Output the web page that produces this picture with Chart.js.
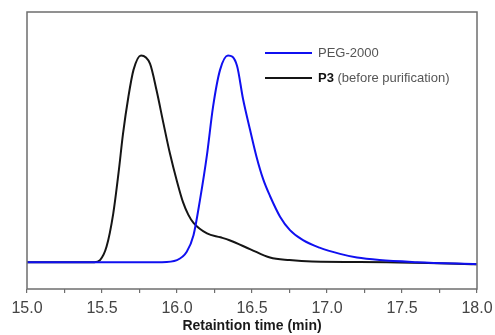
<!DOCTYPE html>
<html lang="en">
<head>
  <meta charset="UTF-8">
  <title>GPC traces</title>
  <style>
    body{ margin: 0; background: #fff; }
    .canvas-con{ width: 495px; height: 335px; }
  </style>
</head>
<body>
  <div class="canvas-con">
    <canvas id="myChart" width="495" height="335"></canvas>
  </div>

  <script src="https://cdn.jsdelivr.net/npm/chart.js"></script>
  <script>
  // PEG-2000 trace (retention time in min, normalised signal)
  const pegTime = [15.0, 15.9, 16.0, 16.065, 16.11, 16.153, 16.2, 16.24, 16.287, 16.34, 16.4, 16.44, 16.487, 16.53, 16.575, 16.62, 16.687, 16.753, 16.84, 16.95, 17.087, 17.2, 17.35, 17.6, 18.0]
  const pegSignal = [0, 0, 0.01, 0.05, 0.13, 0.30, 0.52, 0.75, 0.93, 1.0, 0.95, 0.79, 0.64, 0.51, 0.40, 0.32, 0.22, 0.155, 0.106, 0.07, 0.04, 0.022, 0.01, 0.0, -0.01]
  // P3 (before purification)
  const p3Time = [15.0, 15.45, 15.487, 15.53, 15.575, 15.61, 15.64, 15.676, 15.71, 15.76, 15.82, 15.864, 15.91, 15.953, 16.0, 16.04, 16.075, 16.11, 16.2, 16.29, 16.35, 16.49, 16.62, 16.75, 16.9, 17.4, 18.0]
  const p3Signal = [0, 0, 0.01, 0.074, 0.235, 0.43, 0.62, 0.80, 0.93, 1.0, 0.96, 0.83, 0.67, 0.525, 0.39, 0.29, 0.23, 0.19, 0.139, 0.12, 0.106, 0.062, 0.022, 0.01, 0.003, 0, -0.01]
  const seriesNames = ['PEG-2000', 'P3']
  const xTicks = [15.0, 15.5, 16.0, 16.5, 17.0, 17.5, 18.0]

  const toPoints = (xs, ys) => xs.map((x, i) => ({x: x, y: ys[i]}))

  const framePlugin = {
    id: 'frame_and_legend',
    afterDatasetsDraw: (chart) => {
      const ctx = chart.ctx
      const a = chart.chartArea
      ctx.save()
      ctx.strokeStyle = '#6e6e6e'
      ctx.lineWidth = 1.5
      ctx.strokeRect(a.left, a.top, a.right - a.left, a.bottom - a.top)

      // legend: line sample + text, P3 in bold
      const rows = [
        {color: chart.data.datasets[0].borderColor, y: 53, parts: [[seriesNames[0], 'normal', '#555']]},
        {color: chart.data.datasets[1].borderColor, y: 78, parts: [[seriesNames[1], 'bold', '#111'], [' (before purification)', 'normal', '#555']]}
      ]
      rows.forEach(r => {
        ctx.strokeStyle = r.color
        ctx.lineWidth = 2
        ctx.beginPath()
        ctx.moveTo(265, r.y)
        ctx.lineTo(312, r.y)
        ctx.stroke()
        let x = 318
        ctx.textBaseline = 'middle'
        r.parts.forEach(p => {
          ctx.font = p[1] + ' 13px Arial, "Liberation Sans", sans-serif'
          ctx.fillStyle = p[2]
          ctx.fillText(p[0], x, r.y)
          x += ctx.measureText(p[0]).width
        })
      })
      ctx.restore()
    }
  }

  let myChart = new Chart(document.getElementById('myChart'), {
    type: 'line',
    data: {
      datasets: [
        {
          label: seriesNames[0],
          data: toPoints(pegTime, pegSignal),
          borderColor: '#1010f0',
          borderWidth: 2,
          pointRadius: 0,
          cubicInterpolationMode: 'monotone'
        },
        {
          label: seriesNames[1],
          data: toPoints(p3Time, p3Signal),
          borderColor: '#151515',
          borderWidth: 2,
          pointRadius: 0,
          cubicInterpolationMode: 'monotone'
        }
      ]
    },
    options: {
      responsive: false,
      animation: false,
      layout: {padding: {left: 27, right: 18, top: 12, bottom: 0}},
      scales: {
        x: {
          type: 'linear',
          min: 15,
          max: 18,
          border: {display: false},
          grid: {drawOnChartArea: false, drawTicks: true, tickLength: 4, color: '#6e6e6e', lineWidth: 1.2},
          afterBuildTicks: (axis) => {
            const t = []
            for (let v = 15; v <= 18.001; v += 0.25) t.push({value: Math.round(v * 100) / 100})
            axis.ticks = t
          },
          // pin the frame: no label overhang, fixed axis band height
          afterFit: (axis) => {
            axis.paddingLeft = 0
            axis.paddingRight = 0
            axis.height = 46
          },
          ticks: {
            autoSkip: false,
            maxRotation: 0,
            color: '#444',
            padding: 6,
            font: {size: 16, family: 'Arial, "Liberation Sans", sans-serif'},
            callback: (v) => xTicks.includes(v) ? v.toFixed(1) : ''
          },
          title: {
            display: true,
            text: 'Retaintion time (min)',
            color: '#1a1a1a',
            padding: {top: 0, bottom: 0},
            font: {size: 14, weight: 'bold', family: 'Arial, "Liberation Sans", sans-serif'}
          }
        },
        y: {
          display: false,
          min: -0.13,
          max: 1.21
        }
      },
      plugins: {
        legend: {display: false},
        tooltip: {enabled: false}
      }
    },
    plugins: [framePlugin]
  })
  </script>
</body>
</html>
